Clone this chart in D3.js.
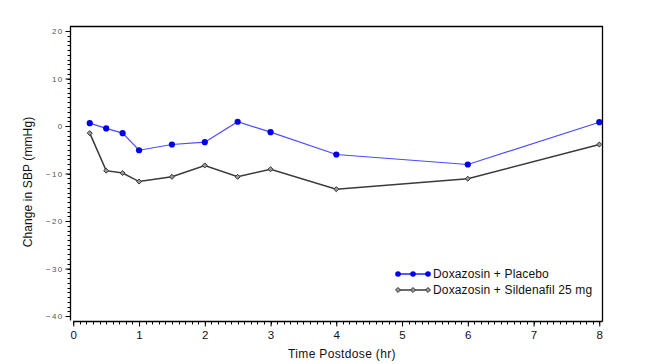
<!DOCTYPE html>
<html><head><meta charset="utf-8">
<script src="https://cdn.jsdelivr.net/npm/d3@7"></script>
<style>body{margin:0;background:#fff}svg{display:block}</style>
</head><body>
<svg id="c" width="668" height="364"></svg>
<script>
const times = [0.25, 0.5, 0.75, 1, 1.5, 2, 2.5, 3, 4, 6, 8];
const placebo = [0.6, -0.5, -1.5, -5.1, -3.9, -3.4, 0.9, -1.3, -6.0, -8.1, 0.8];
const sildenafil = [-1.5, -9.4, -9.9, -11.7, -10.7, -8.3, -10.7, -9.1, -13.3, -11.1, -3.9];
const seriesNames = ["Doxazosin + Placebo", "Doxazosin + Sildenafil 25 mg"];
const xTicks = [0, 1, 2, 3, 4, 5, 6, 7, 8];
const yTicks = [20, 10, 0, -10, -20, -30, -40];
const xTitle = "Time Postdose (hr)";
const yTitle = "Change in SBP (mmHg)";

const FONT = "Arial, Liberation Sans, sans-serif";
const svg = d3.select("#c");
const x = d3.scaleLinear().domain([0, 8]).range([73.3, 599.3]);
const y = d3.scaleLinear().domain([-40, 20]).range([316, 31]);
const fL = 70.5, fR = 602.5, fT = 26.5, fB = 320.5;

// frame
svg.append("path").attr("d", `M${fL},${fB} L${fL},${fT} L${fR},${fT} L${fR},${fB + 1}`)
  .attr("fill", "none").attr("stroke", "#000").attr("stroke-width", 1.3);

// y axis minor ticks
const yMinor = d3.range(-40, 20.01, 1);
svg.append("g").selectAll("line").data(yMinor).join("line")
  .attr("x1", fL - 3).attr("x2", fL)
  .attr("y1", d => Math.round(y(d)) + 0.5).attr("y2", d => Math.round(y(d)) + 0.5)
  .attr("stroke", "#000").attr("stroke-width", 1);
const yAxis = d3.axisLeft(y).tickValues(yTicks).tickSize(5).tickPadding(2).tickFormat(d3.format("d"));
const gy = svg.append("g").attr("transform", `translate(${fL},0)`).call(yAxis);
gy.select(".domain").remove();
gy.selectAll("text").attr("font-family", FONT).attr("font-size", 8).attr("letter-spacing", 1.3).attr("fill", "#555");

// x axis
const xAxisY = 321.5;
svg.append("line").attr("x1", x(0)).attr("x2", fR).attr("y1", xAxisY).attr("y2", xAxisY).attr("stroke", "#000").attr("stroke-width", 1.3);
const xMinor = d3.range(0, 8.001, 0.1);
svg.append("g").selectAll("line").data(xMinor).join("line")
  .attr("x1", d => Math.round(x(d)) + 0.5).attr("x2", d => Math.round(x(d)) + 0.5)
  .attr("y1", xAxisY).attr("y2", xAxisY + 3)
  .attr("stroke", "#000").attr("stroke-width", 1);
const xAxis = d3.axisBottom(x).tickValues(xTicks).tickSize(5).tickPadding(4).tickFormat(d3.format("d"));
const gx = svg.append("g").attr("transform", `translate(0,${xAxisY})`).call(xAxis);
gx.select(".domain").remove();
gx.selectAll("text").attr("font-family", FONT).attr("font-size", 11.5).attr("fill", "#111");

// titles
svg.append("text").attr("x", 342).attr("y", 358).attr("text-anchor", "middle")
  .attr("font-family", FONT).attr("font-size", 12).attr("letter-spacing", 0.35).attr("fill", "#111").text(xTitle);
svg.append("text").attr("transform", "translate(32,182) rotate(-90)").attr("text-anchor", "middle")
  .attr("font-family", FONT).attr("font-size", 12).attr("letter-spacing", 0.1).attr("fill", "#111").text(yTitle);

// series
const line = d3.line().x(d => x(d[0])).y(d => y(d[1]));
const pData = times.map((t, i) => [t, placebo[i]]);
const sData = times.map((t, i) => [t, sildenafil[i]]);
const diamond = d3.symbol().type(d3.symbolDiamond2).size(16);

svg.append("path").datum(sData).attr("d", line).attr("fill", "none").attr("stroke", "#3a3a3a").attr("stroke-width", 1.5);
svg.append("g").selectAll("path").data(sData).join("path")
  .attr("transform", d => `translate(${x(d[0])},${y(d[1])})`).attr("d", diamond)
  .attr("fill", "#999").attr("stroke", "#333").attr("stroke-width", 1);

svg.append("path").datum(pData).attr("d", line).attr("fill", "none").attr("stroke", "#4b4bff").attr("stroke-width", 1.2);
svg.append("g").selectAll("circle").data(pData).join("circle")
  .attr("cx", d => x(d[0])).attr("cy", d => y(d[1])).attr("r", 3.1).attr("fill", "#0000ee");

// legend
const lg = svg.append("g");
const ly = [274, 290];
[0, 1].forEach(i => {
  const yy = ly[i];
  lg.append("line").attr("x1", 397).attr("x2", 429).attr("y1", yy).attr("y2", yy)
    .attr("stroke", i === 0 ? "#2020ff" : "#3a3a3a").attr("stroke-width", 1.5);
  [398, 413, 428].forEach(cx => {
    if (i === 0) lg.append("circle").attr("cx", cx).attr("cy", yy).attr("r", 2.8).attr("fill", "#0000ee");
    else lg.append("path").attr("transform", `translate(${cx},${yy})`).attr("d", diamond).attr("fill", "#999").attr("stroke", "#333");
  });
  lg.append("text").attr("x", 433).attr("y", yy + 4).attr("font-family", FONT)
    .attr("font-size", 12).attr("letter-spacing", 0.15).attr("fill", "#111").text(seriesNames[i]);
});
</script>
</body></html>
